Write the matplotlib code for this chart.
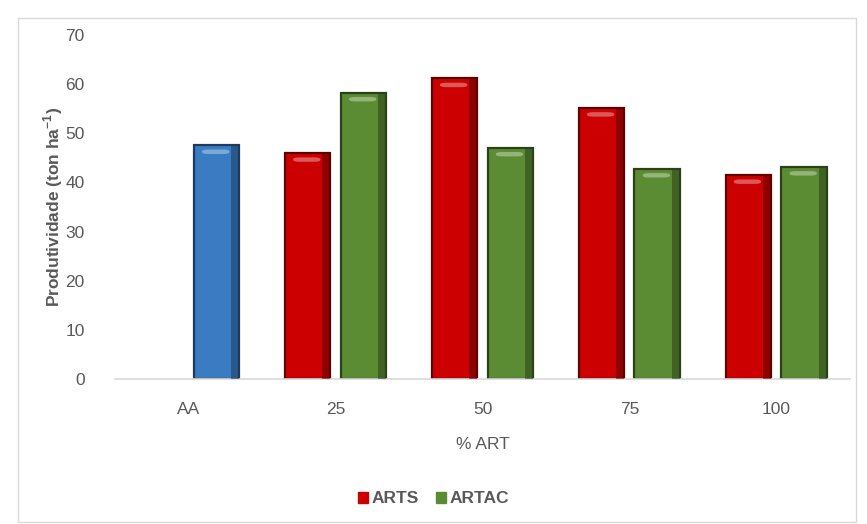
import matplotlib.pyplot as plt
import matplotlib.patches as mpatches
import numpy as np

plt.rcParams['font.family'] = ['Liberation Sans', 'DejaVu Sans']

categories = ['AA', '25', '50', '75', '100']
# AA is a single reference bar (drawn in blue, in the ARTAC slot)
aa_value = 47.6
arts = [46.0, 61.2, 55.2, 41.5]
artac = [58.3, 47.1, 42.8, 43.2]

grey = '#595959'
red, red_dark = '#cc0000', '#5e0000'
green, green_dark = '#5b8c33', '#2b4219'
blue, blue_dark = '#3a7cc1', '#1c3b5e'

fig = plt.figure(figsize=(8.67, 5.24), dpi=100)
ax = fig.add_axes([0.133, 0.277, 0.847, 0.656])

x = np.arange(len(categories))
w = 0.31
off = 0.19


def shaded_bars(xs, heights, color, dark):
    bars = ax.bar(xs, heights, w, color=color, edgecolor=dark, linewidth=1.6, zorder=2)
    for b in bars:
        # darker right edge and light cap, to mimic the bevel look
        bx, by = b.get_x(), b.get_height()
        ax.add_patch(mpatches.Rectangle((bx + w * 0.82, 0), w * 0.18, by,
                                        color=dark, alpha=0.55, lw=0, zorder=3))
        ax.add_patch(mpatches.FancyBboxPatch((bx + w * 0.18, by - 1.8), w * 0.6, 0.9,
                                             boxstyle='round,pad=0,rounding_size=0.04',
                                             mutation_aspect=10,
                                             color='white', alpha=0.35, lw=0, zorder=3))
    return bars


shaded_bars([x[0] + off], [aa_value], blue, blue_dark)
shaded_bars(x[1:] - off, arts, red, red_dark)
shaded_bars(x[1:] + off, artac, green, green_dark)

ax.set_xlim(-0.5, 4.5)
ax.set_ylim(0, 70)
ax.set_yticks(range(0, 71, 10))
ax.set_xticks(x)
ax.set_xticklabels(categories)
ax.tick_params(colors=grey, labelsize=12.5, length=0)
ax.tick_params(axis='y', pad=22)
ax.tick_params(axis='x', pad=17)
for s in ['top', 'right', 'left']:
    ax.spines[s].set_visible(False)
ax.spines['bottom'].set_color('#d9d9d9')
ax.spines['bottom'].set_linewidth(1.2)

ax.set_ylabel('Produtividade (ton ha$^{\\mathregular{-1}}$)', color=grey,
              fontsize=12.5, fontweight='bold', labelpad=0)
ax.set_xlabel('% ART', color=grey, fontsize=12.5, labelpad=14)

handles = [mpatches.Patch(color=red, label='ARTS'),
           mpatches.Patch(color=green, label='ARTAC')]
leg = fig.legend(handles=handles, loc='center', bbox_to_anchor=(0.5, 0.048), ncol=2,
                 frameon=False, handlelength=0.6, handleheight=0.6,
                 handletextpad=0.2, columnspacing=1.0, fontsize=12.5)
for t in leg.get_texts():
    t.set_color(grey)
    t.set_fontweight('bold')

fig.patches.append(mpatches.Rectangle((0.021, 0.004), 0.966, 0.962, transform=fig.transFigure,
                                      fill=False, edgecolor='#d9d9d9', lw=1.0))

fig.savefig('out.png', dpi=100)
